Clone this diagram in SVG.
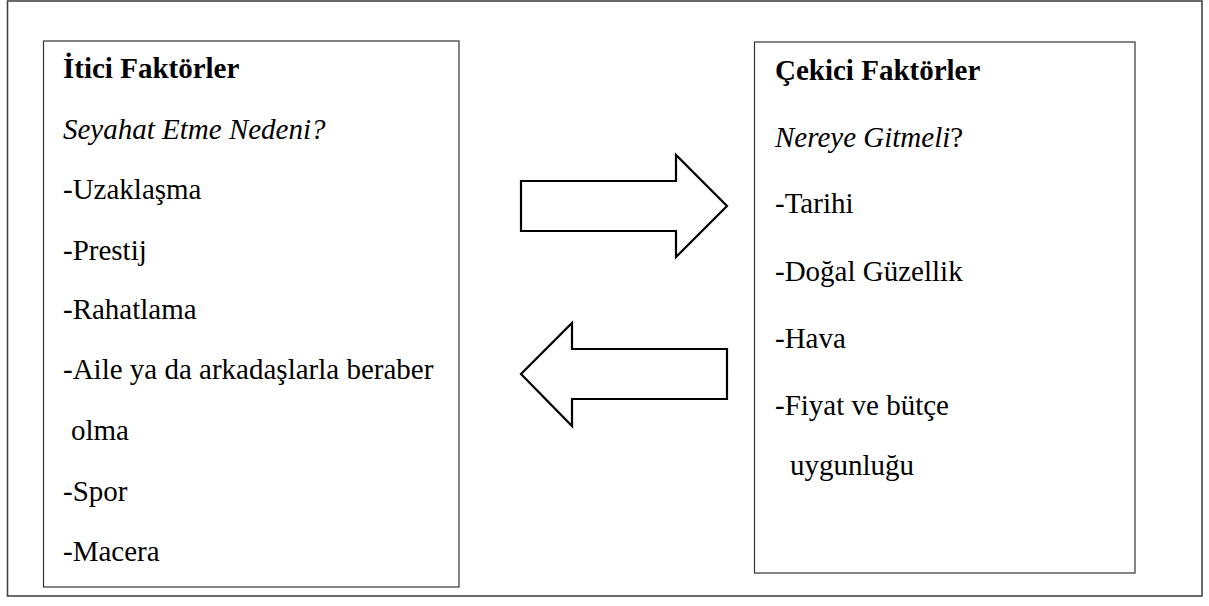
<svg xmlns="http://www.w3.org/2000/svg" width="1209" height="606" viewBox="0 0 1209 606">
  <style>
    .frame { fill: #ffffff; stroke: #444444; stroke-width: 1.6; }
    .box { fill: #ffffff; stroke: #333333; stroke-width: 1.2; }
    .arrow { fill: #ffffff; stroke: #000000; stroke-width: 2.2; stroke-linejoin: miter; }
    .t { font-family: 'Liberation Serif', Tinos, 'Times New Roman', 'DejaVu Serif', serif; font-size: 29px; fill: #000000; }
    .title { font-weight: bold; }
    .q { font-style: italic; }
  </style>

  <!-- outer frame -->
  <rect class="frame" x="7.5" y="1" width="1194.5" height="595"/>

  <!-- push factors -->
  <g id="push-factors">
    <rect class="box" x="43.5" y="41" width="415.5" height="546"/>
    <text class="t title" x="63" y="78">İtici Faktörler</text>
    <text class="t q" x="63" y="139">Seyahat Etme Nedeni?</text>
    <text class="t" x="63" y="199">-Uzaklaşma</text>
    <text class="t" x="63" y="260">-Prestij</text>
    <text class="t" x="63" y="319">-Rahatlama</text>
    <text class="t" x="63" y="379">-Aile ya da arkadaşlarla beraber</text>
    <text class="t" x="71" y="440">olma</text>
    <text class="t" x="63" y="501">-Spor</text>
    <text class="t" x="63" y="561">-Macera</text>
  </g>

  <!-- pull factors -->
  <g id="pull-factors">
    <rect class="box" x="754.5" y="42" width="380.5" height="531"/>
    <text class="t title" x="775" y="80">Çekici Faktörler</text>
    <text class="t" x="775" y="147"><tspan class="q">Nereye Gitmeli</tspan>?</text>
    <text class="t" x="775" y="213">-Tarihi</text>
    <text class="t" x="775" y="281">-Doğal Güzellik</text>
    <text class="t" x="775" y="348">-Hava</text>
    <text class="t" x="775" y="415">-Fiyat ve bütçe</text>
    <text class="t" x="790" y="475">uygunluğu</text>
  </g>

  <!-- block arrows between the two groups -->
  <g id="connectors">
    <polygon class="arrow" points="521,181 676,181 676,155 727,206 676,257 676,231 521,231"/>
    <polygon class="arrow" points="727,349 572,349 572,323 521,374 572,426 572,399 727,399"/>
  </g>
</svg>
